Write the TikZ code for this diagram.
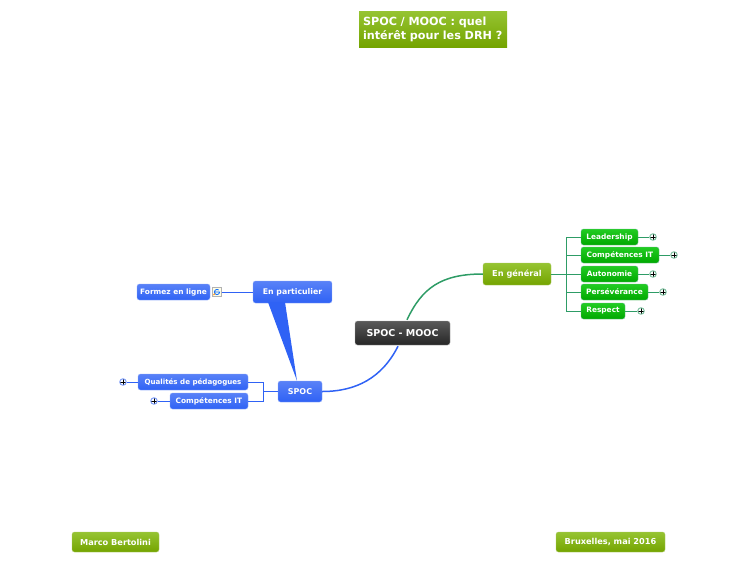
\documentclass[tikz,border=0pt]{standalone}
\usepackage{fontspec}
\setmainfont{DejaVu Sans}
\usetikzlibrary{calc}
\definecolor{bluelink}{HTML}{2F62F5}
\definecolor{greenlink}{HTML}{2E9C66}
\definecolor{olivetop}{HTML}{96C432}
\definecolor{olivebottom}{HTML}{74A400}
\definecolor{greentop}{HTML}{22CC22}
\definecolor{greenbottom}{HTML}{00A800}
\tikzset{
	topic/.style={rounded corners=2.5pt, inner sep=0pt, text=white, align=center, font=\bfseries\fontsize{7.4}{9}\selectfont},
	olivebox/.style={topic, draw=olivebottom!60!white, top color=olivetop, bottom color=olivebottom, font=\bfseries\fontsize{8.2}{10}\selectfont},
	bluebox/.style={topic, draw=bluelink!55!white, top color=bluelink!80!white, bottom color=bluelink},
	greenbox/.style={topic, draw=greenlink!70, top color=greentop, bottom color=greenbottom},
	expander/.style={circle, draw=#1!60, line width=1pt, fill=white, minimum size=6.5pt, inner sep=0pt, path picture={\draw [black, line width=0.9pt] (path picture bounding box.west) -- (path picture bounding box.east) (path picture bounding box.north) -- (path picture bounding box.south);}},
	bluelinkline/.style={draw=bluelink, line width=1pt},
	greenlinkline/.style={draw=greenlink, line width=1pt}
}

\begin{document}
\begin{tikzpicture}[x=1pt, y=-1pt]
	\useasboundingbox (0,0) rectangle (750,563);
	% title and footers
	\node (n0) [olivebox, rounded corners=0pt, draw=none, inner xsep=4, text width=140, minimum height=36, align=left, font=\bfseries\fontsize{11.2}{14}\selectfont] at (433,29) {SPOC / MOOC : quel\\intérêt pour les DRH ?};
	\node (f1) [olivebox, minimum width=87, minimum height=20] at (115.5,542) {Marco Bertolini};
	\node (f2) [olivebox, minimum width=109, minimum height=20] at (610.5,542) {Bruxelles, mai 2016};

	% centre
	\node (n1) [topic, draw=black!35, top color=black!65, bottom color=black!85, minimum width=95, minimum height=24, font=\bfseries\fontsize{9.5}{11}\selectfont] at (402.5,333) {SPOC - MOOC};

	% right branch
	\node (n2) [olivebox, minimum width=68, minimum height=22] at (517,274) {En général};
	\node (r1) [greenbox, minimum width=57, minimum height=16] at (609.5,237) {Leadership};
	\node (r2) [greenbox, minimum width=78, minimum height=16] at (620,255) {Compétences IT};
	\node (r3) [greenbox, minimum width=57, minimum height=16] at (609.5,274) {Autonomie};
	\node (r4) [greenbox, minimum width=67, minimum height=16] at (614.5,292) {Persévérance};
	\node (r5) [greenbox, minimum width=44, minimum height=16] at (603,311) {Respect};
	\node (p1) [expander=greenlink] at (653,237) {};
	\node (p2) [expander=greenlink] at (674,255) {};
	\node (p3) [expander=greenlink] at (653,274) {};
	\node (p4) [expander=greenlink] at (663,292) {};
	\node (p5) [expander=greenlink] at (641,311) {};
	\coordinate (c1) at (566,274);

	\draw [greenlinkline, line width=1.5pt] ($(n1.north)+(4.5,-1)$) .. controls (422,288) and (441,274) .. (n2.west);
	\draw [greenlinkline] (n2.east) -- (c1);
	\draw [greenlinkline] (c1) |- (r1.west);
	\draw [greenlinkline] (c1) |- (r2.west);
	\draw [greenlinkline] (c1) -- (r3.west);
	\draw [greenlinkline] (c1) |- (r4.west);
	\draw [greenlinkline] (c1) |- (r5.west);
	\draw [greenlinkline] (r1) -- (p1);
	\draw [greenlinkline] (r2) -- (p2);
	\draw [greenlinkline] (r3) -- (p3);
	\draw [greenlinkline] (r4) -- (p4);
	\draw [greenlinkline] (r5) -- (p5);

	% left branch
	\node (n3) [bluebox, minimum width=44, minimum height=21, font=\bfseries\fontsize{8}{10}\selectfont] at (300,391.5) {SPOC};
	\node (n4) [bluebox, minimum width=79, minimum height=22, font=\bfseries\fontsize{7.8}{9}\selectfont] at (292.5,292) {En particulier};
	\node (l1) [bluebox, minimum width=73, minimum height=16] at (173.5,292) {Formez en ligne};
	\node (l2) [bluebox, minimum width=110, minimum height=16, font=\bfseries\fontsize{7.1}{9}\selectfont] at (193,382) {Qualités de pédagogues};
	\node (l3) [bluebox, minimum width=78, minimum height=16] at (209,401) {Compétences IT};
	\node (p6) [expander=bluelink] at (123,382) {};
	\node (p7) [expander=bluelink] at (154,401) {};
	\coordinate (c2) at (263,391.5);

	\draw [bluelinkline, line width=1.5pt] ($(n1.south)+(-4.5,1)$) .. controls (382,378) and (356,391.5) .. (n3.east);
	\draw [bluelinkline] (n3.west) -- (c2);
	\draw [bluelinkline] (c2) |- (l2.east);
	\draw [bluelinkline] (c2) |- (l3.east);
	\draw [bluelinkline] (l2) -- (p6);
	\draw [bluelinkline] (l3) -- (p7);

	% callout and link to the page icon
	\fill [bluelink] ($(n4.south)+(-24.5,-1)$) -- ($(n3.north)+(-3,0)$) -- ($(n4.south)+(-7.5,-1)$) -- cycle;
	\node (i1) [draw=black!30, fill=yellow!10, minimum size=9, inner sep=0pt] at (217,292) {};
	\draw [bluelinkline] (i1) -- (n4);
	\draw [blue!60!cyan, line width=0.8pt] ($(i1)+(-2.6,0)$) -- ($(i1)+(2.6,0)$) arc (0:180:2.6) arc (180:310:2.6);
	\draw [orange, line width=0.9pt] ($(i1)+(-3.5,3)$) -- ($(i1)+(-2,1.6)$);
\end{tikzpicture}
\end{document}
